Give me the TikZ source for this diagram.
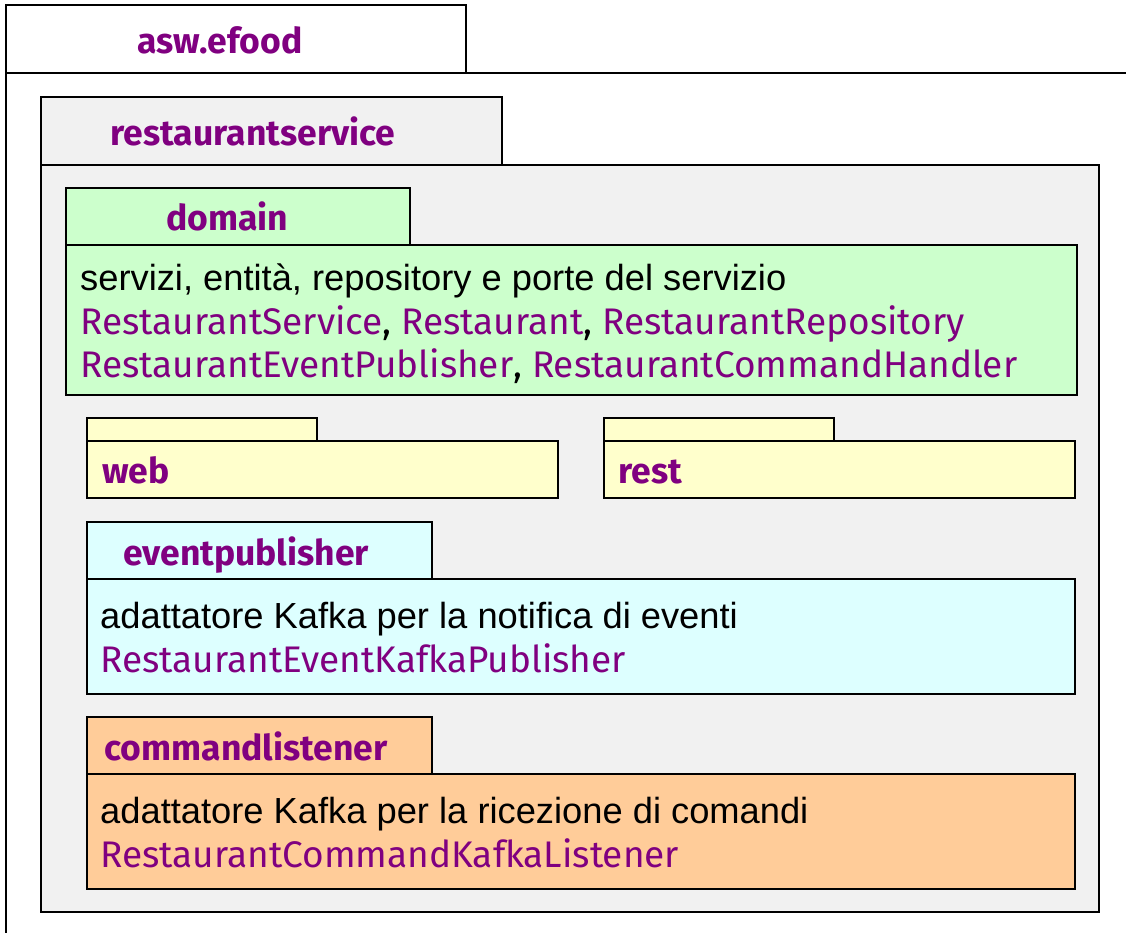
\documentclass[tikz,border=0pt]{standalone}
\usepackage{fontspec}
\setmainfont{Liberation Sans}
\newfontfamily\ubf{Fira Sans}
\definecolor{pkgpurple}{HTML}{800080}
\definecolor{svcgray}{HTML}{F1F1F1}
\definecolor{domgreen}{HTML}{CCFFCC}
\definecolor{webyellow}{HTML}{FFFFCC}
\definecolor{evcyan}{HTML}{DDFFFF}
\definecolor{cmdorange}{HTML}{FFCC99}
\begin{document}
\begin{tikzpicture}[x=1pt,y=-1pt,
  pkgline/.style={draw=black, line width=1.8pt},
  title/.style={font=\ubf\bfseries\fontsize{35.5}{40}\selectfont, text=pkgpurple, inner sep=0pt, anchor=base},
  desc/.style={font=\fontsize{36.3}{42}\selectfont, text=black, inner sep=0pt, anchor=base west},
  cls/.style={font=\ubf\fontsize{37}{42}\selectfont, text=pkgpurple, inner sep=0pt, anchor=base west}]
\useasboundingbox (0,0) rectangle (1126,932);
\fill[white] (0,0) rectangle (1126,932);
% outer package asw.efood
\draw[pkgline] (6,5) rectangle (466,73);
\draw[pkgline] (6,940) -- (6,73) -- (1140,73);
\node[title] (asw) at (220,53) {asw.efood};
% restaurantservice
\filldraw[pkgline, fill=svcgray] (41,97) rectangle (502,165);
\filldraw[pkgline, fill=svcgray] (41,165) rectangle (1099,912);
\node[title] (rs) at (253,145) {restaurantservice};
% domain
\filldraw[pkgline, fill=domgreen] (66,188) rectangle (410,245);
\filldraw[pkgline, fill=domgreen] (66,245) rectangle (1077,395);
\node[title] (dom) at (227,230) {domain};
\node[desc] (dom1) at (80,290) {servizi, entità, repository e porte del servizio};
\node[cls] (dom2) at (80,334) {RestaurantService{\color{black},} Restaurant{\color{black},} RestaurantRepository};
\node[cls] (dom3) at (80,377) {RestaurantEventPublisher{\color{black},} RestaurantCommandHandler};
% web
\filldraw[pkgline, fill=webyellow] (87,418) rectangle (317,441);
\filldraw[pkgline, fill=webyellow] (87,441) rectangle (558,498);
\node[title, anchor=base west] (web) at (102,483) {web};
% rest
\filldraw[pkgline, fill=webyellow] (604,418) rectangle (834,441);
\filldraw[pkgline, fill=webyellow] (604,441) rectangle (1075,498);
\node[title, anchor=base west] (rest) at (618,483) {rest};
% eventpublisher
\filldraw[pkgline, fill=evcyan] (87,522) rectangle (432,579);
\filldraw[pkgline, fill=evcyan] (87,579) rectangle (1075,694);
\node[title] (ep) at (246,565) {eventpublisher};
\node[desc] (ep1) at (100,628) {adattatore Kafka per la notifica di eventi};
\node[cls] (ep2) at (100,672) {RestaurantEventKafkaPublisher};
% commandlistener
\filldraw[pkgline, fill=cmdorange] (87,717) rectangle (432,774);
\filldraw[pkgline, fill=cmdorange] (87,774) rectangle (1075,889);
\node[title] (cl) at (246,760) {commandlistener};
\node[desc] (cl1) at (100,823) {adattatore Kafka per la ricezione di comandi};
\node[cls] (cl2) at (100,867) {RestaurantCommandKafkaListener};
\end{tikzpicture}
\end{document}
